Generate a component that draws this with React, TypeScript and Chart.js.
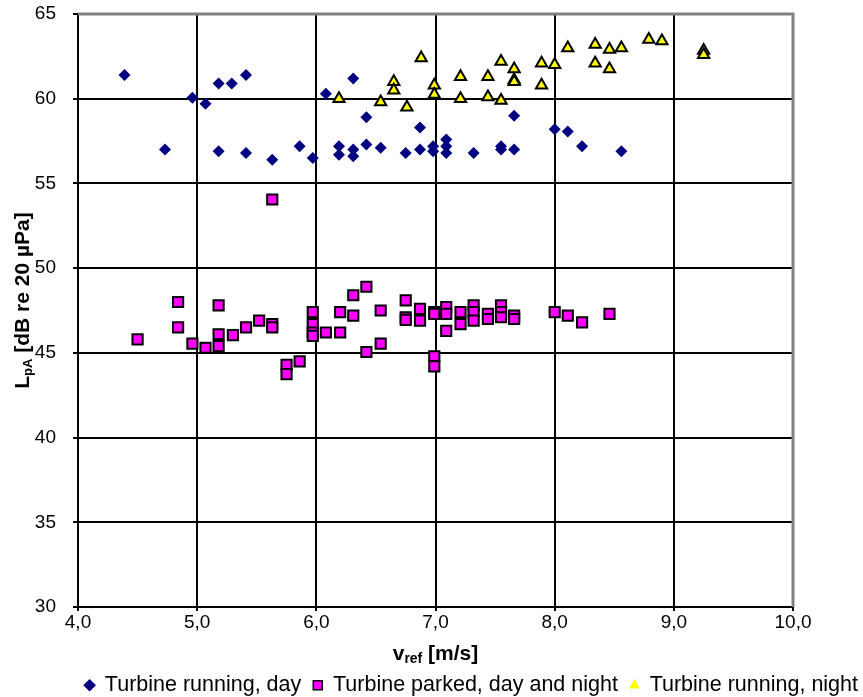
import React, { useEffect, useRef } from 'react';
import { Chart, registerables } from 'chart.js';

Chart.register(...registerables);

// ---- data ----
const xTickValues = [4, 5, 6, 7, 8, 9, 10];
const yTickValues = [30, 35, 40, 45, 50, 55, 60, 65];

const seriesNames = ['Turbine running, day', 'Turbine parked, day and night', 'Turbine running, night'];

const runningDayX = [4.39, 4.73, 4.96, 5.07, 5.18, 5.18, 5.29, 5.41, 5.41, 5.63, 5.86, 5.97, 6.08, 6.19, 6.19, 6.31, 6.31, 6.31, 6.42, 6.42, 6.54, 6.75, 6.87, 6.87, 6.98, 6.98, 7.09, 7.09, 7.09, 7.32, 7.55, 7.55, 7.66, 7.66, 8.0, 8.11, 8.23, 8.56];
const runningDayY = [61.4, 57.0, 60.05, 59.7, 60.9, 56.9, 60.9, 61.4, 56.8, 56.4, 57.2, 56.5, 60.3, 57.2, 56.7, 61.2, 57.0, 56.6, 58.9, 57.3, 57.1, 56.8, 58.3, 57.0, 57.2, 56.9, 57.6, 57.2, 56.8, 56.8, 57.2, 57.0, 59.0, 57.0, 58.2, 58.06, 57.2, 56.9];

const parkedX = [4.5, 4.84, 4.84, 4.96, 5.07, 5.18, 5.18, 5.18, 5.3, 5.41, 5.52, 5.63, 5.63, 5.63, 5.75, 5.75, 5.86, 5.97, 5.97, 5.97, 5.97, 6.08, 6.2, 6.2, 6.31, 6.31, 6.42, 6.42, 6.54, 6.54, 6.75, 6.75, 6.75, 6.87, 6.87, 6.99, 6.99, 6.99, 6.99, 7.09, 7.09, 7.09, 7.21, 7.21, 7.32, 7.32, 7.32, 7.44, 7.44, 7.55, 7.55, 7.55, 7.66, 7.66, 8.0, 8.11, 8.23, 8.46];
const parkedY = [45.8, 48.0, 46.5, 45.55, 45.3, 47.8, 46.1, 45.4, 46.05, 46.5, 46.9, 54.05, 46.7, 46.5, 44.3, 43.75, 44.5, 47.4, 46.7, 46.2, 46.0, 46.2, 47.4, 46.2, 48.4, 47.2, 48.9, 45.05, 47.5, 45.55, 48.1, 47.1, 46.95, 47.6, 46.9, 47.4, 47.3, 44.8, 44.2, 47.7, 47.3, 46.3, 47.4, 46.7, 47.8, 47.4, 46.9, 47.3, 47.0, 47.8, 47.4, 47.1, 47.2, 47.0, 47.4, 47.2, 46.8, 47.3];

const runningNightX = [6.19, 6.54, 6.65, 6.65, 6.76, 6.88, 6.99, 6.99, 7.21, 7.21, 7.44, 7.44, 7.55, 7.55, 7.66, 7.66, 7.66, 7.89, 7.89, 8.0, 8.11, 8.34, 8.34, 8.46, 8.46, 8.56, 8.79, 8.9, 9.25, 9.25];
const runningNightY = [60.0, 59.8, 61.0, 60.5, 59.5, 62.4, 60.8, 60.25, 61.3, 60.0, 61.3, 60.1, 62.2, 59.9, 61.75, 61.1, 61.0, 62.1, 60.8, 62.0, 63.0, 63.2, 62.1, 62.9, 61.75, 63.0, 63.5, 63.4, 62.85, 62.6];

const FONT = '"Liberation Sans", Arial, Helvetica, sans-serif';
const W = 863;
const H = 697;
const PLOT_LEFT = 78;
const PLOT_RIGHT = 793;
const PLOT_TOP = 14;
const PLOT_BOTTOM = 607;
const LEGEND_SHIFT_Y = 9;
const LEGEND_SHIFT_X = 7;
const X_TITLE_BASELINE = 660;
const Y_TITLE_X = 29;
const Y_TITLE_SHIFT = -10;

const toPoints = (xs: number[], ys: number[]) => xs.map((x, i) => ({ x, y: ys[i] }));

const titlePlugin = {
  id: 'subscriptTitles',
  afterDraw(chart: any) {
    const ctx: CanvasRenderingContext2D = chart.ctx;
    const area = chart.chartArea;
    const drawRuns = (runs: { t: string; size: number; dy: number }[], cx: number, cy: number) => {
      const widths: number[] = [];
      let total = 0;
      runs.forEach((r) => {
        ctx.font = `bold ${r.size}px ${FONT}`;
        const w = ctx.measureText(r.t).width;
        widths.push(w);
        total += w;
      });
      let x = cx - total / 2;
      runs.forEach((r, i) => {
        ctx.font = `bold ${r.size}px ${FONT}`;
        ctx.fillText(r.t, x, cy + r.dy);
        x += widths[i];
      });
    };
    ctx.save();
    ctx.fillStyle = '#000';
    ctx.textAlign = 'left';
    ctx.textBaseline = 'alphabetic';
    drawRuns(
      [
        { t: 'v', size: 21, dy: 0 },
        { t: 'ref', size: 14, dy: 3 },
        { t: ' [m/s]', size: 21, dy: 0 },
      ],
      (area.left + area.right) / 2,
      X_TITLE_BASELINE
    );
    ctx.translate(Y_TITLE_X, (area.top + area.bottom) / 2 + Y_TITLE_SHIFT);
    ctx.rotate(-Math.PI / 2);
    drawRuns(
      [
        { t: 'L', size: 21, dy: 0 },
        { t: 'pA', size: 13, dy: 3 },
        { t: ' [dB re 20 µPa]', size: 21, dy: 0 },
      ],
      0,
      0
    );
    ctx.restore();
  },
};

const framePlugin = {
  id: 'grayFrame',
  afterDatasetsDraw(chart: any) {
    const ctx: CanvasRenderingContext2D = chart.ctx;
    const a = chart.chartArea;
    ctx.save();
    ctx.strokeStyle = '#808080';
    ctx.lineWidth = 3;
    ctx.beginPath();
    ctx.moveTo(a.left, a.top);
    ctx.lineTo(a.right, a.top);
    ctx.lineTo(a.right, a.bottom);
    ctx.stroke();
    ctx.restore();
  },
};

const legendShiftPlugin = {
  id: 'legendShift',
  afterLayout(chart: any) {
    if (chart.legend) {
      chart.legend.top += LEGEND_SHIFT_Y;
      chart.legend.bottom += LEGEND_SHIFT_Y;
      chart.legend.left += LEGEND_SHIFT_X;
      chart.legend.right += LEGEND_SHIFT_X;
    }
  },
};

export default function App() {
  const ref = useRef<HTMLCanvasElement | null>(null);

  useEffect(() => {
    document.body.style.margin = '0';
    const canvas = ref.current;
    if (!canvas) return;
    const chart = new Chart(canvas, {
      type: 'scatter',
      data: {
        datasets: [
          {
            label: seriesNames[0],
            data: toPoints(runningDayX, runningDayY),
            pointStyle: 'rectRot',
            radius: 6,
            backgroundColor: '#000080',
            borderColor: '#000080',
            borderWidth: 0,
            order: 3,
          },
          {
            label: seriesNames[1],
            data: toPoints(parkedX, parkedY),
            pointStyle: 'rect',
            radius: 7.2,
            backgroundColor: '#FF00FF',
            borderColor: '#000000',
            borderWidth: 2,
            order: 2,
          },
          {
            label: seriesNames[2],
            data: toPoints(runningNightX, runningNightY),
            pointStyle: 'triangle',
            radius: 6.5,
            backgroundColor: '#FFFF00',
            borderColor: '#000000',
            borderWidth: 2,
            order: 1,
          },
        ],
      },
      options: {
        animation: false,
        responsive: false,
        maintainAspectRatio: false,
        layout: { padding: { left: 0, right: 0, top: PLOT_TOP, bottom: 0 } },
        plugins: {
          tooltip: { enabled: false },
          title: { display: false },
          legend: {
            display: true,
            position: 'bottom',
            align: 'end',
            labels: {
              usePointStyle: true,
              boxWidth: 9,
              boxHeight: 9,
              padding: 12,
              color: '#000',
              font: { family: FONT, size: 21.5 },
              sort: (a: any, b: any) => a.datasetIndex - b.datasetIndex,
              generateLabels: (chart: any) => {
                const items = Chart.defaults.plugins.legend.labels.generateLabels(chart);
                return items.map((it: any) => {
                  if (it.datasetIndex === 2) {
                    return { ...it, lineWidth: 0, strokeStyle: '#FFFF00' };
                  }
                  if (it.datasetIndex === 1) {
                    return { ...it, lineWidth: 1.5 };
                  }
                  return it;
                });
              },
            },
          },
        },
        scales: {
          x: {
            type: 'linear',
            min: 4,
            max: 10,
            afterBuildTicks: (scale: any) => {
              scale.ticks = xTickValues.map((v) => ({ value: v }));
            },
            afterFit: (scale: any) => {
              const legendH = scale.chart.legend ? scale.chart.legend.height : 0;
              scale.height = H - PLOT_BOTTOM - legendH;
            },
            border: { display: true, color: '#000', width: 2 },
            grid: {
              color: (c: any) => (c.tick && c.tick.value === 10 ? 'rgba(0,0,0,0)' : '#000'),
              lineWidth: 2,
              drawTicks: true,
              tickLength: 4,
              tickColor: '#000',
            },
            ticks: {
              color: '#000',
              font: { family: FONT, size: 19 },
              padding: 0,
              maxRotation: 0,
              callback: (v: any) => Number(v).toFixed(1).replace('.', ','),
            },
          },
          y: {
            type: 'linear',
            min: 30,
            max: 65,
            afterBuildTicks: (scale: any) => {
              scale.ticks = yTickValues.map((v) => ({ value: v }));
            },
            afterFit: (scale: any) => {
              scale.width = PLOT_LEFT;
              scale.paddingTop = 10;
              scale.paddingBottom = 10;
            },
            border: { display: true, color: '#000', width: 2 },
            grid: {
              color: (c: any) => (c.tick && c.tick.value === 65 ? 'rgba(0,0,0,0)' : '#000'),
              lineWidth: 2,
              drawTicks: true,
              tickLength: 5,
              tickColor: '#000',
            },
            ticks: {
              color: '#000',
              font: { family: FONT, size: 19 },
              padding: 17,
            },
          },
          yRight: {
            type: 'linear',
            position: 'right',
            display: true,
            min: 0,
            max: 1,
            grid: { display: false, drawTicks: false },
            border: { display: false },
            ticks: { display: false },
            afterFit: (scale: any) => {
              scale.width = W - PLOT_RIGHT;
              scale.paddingTop = 0;
              scale.paddingBottom = 0;
            },
          },
        },
      },
      plugins: [framePlugin, titlePlugin, legendShiftPlugin],
    } as any);
    return () => chart.destroy();
  }, []);

  return (
    <div style={{ width: W, height: H, background: '#fff' }}>
      <canvas ref={ref} width={W} height={H} style={{ display: 'block', width: W, height: H }} />
    </div>
  );
}
